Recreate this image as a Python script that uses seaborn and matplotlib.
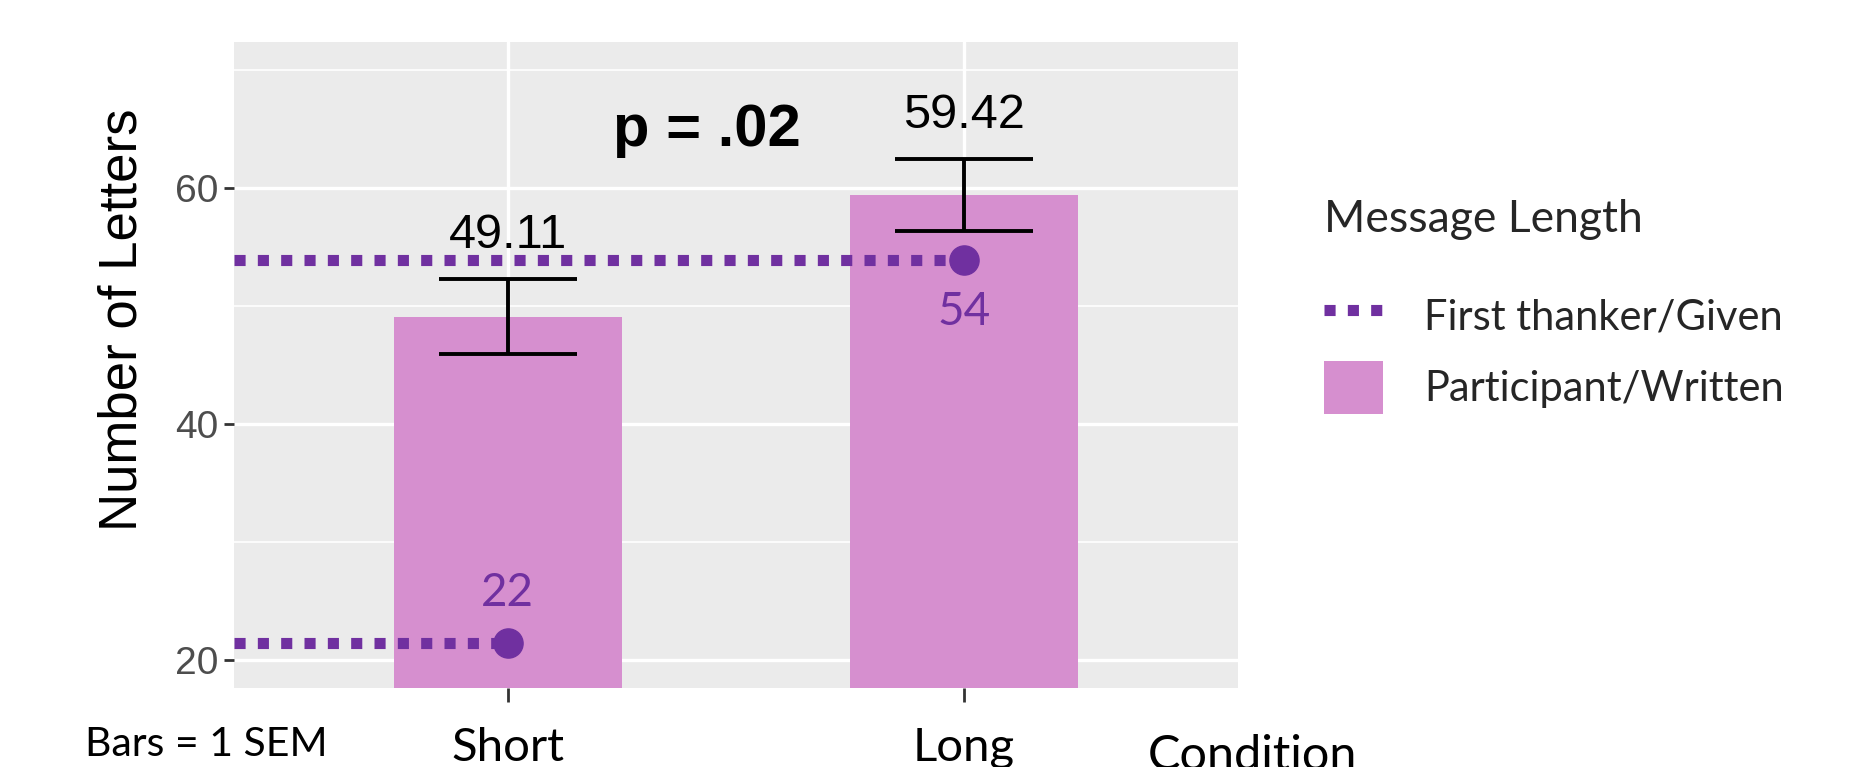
import matplotlib
matplotlib.use("Agg")
import matplotlib.pyplot as plt
from matplotlib.lines import Line2D
from matplotlib.patches import Patch
from matplotlib.ticker import MultipleLocator
import numpy as np
import pandas as pd
import seaborn as sns

# data
conditions = ["Short", "Long"]
written_means = [49.11, 59.42]
written_sem = [3.2, 3.05]
given_values = [21.4, 53.9]
given_labels = ["22", "54"]
mean_labels = ["49.11", "59.42"]

BAR_COLOR = "#D68FCF"
PURPLE = "#7030A0"
ARIAL = ["Liberation Sans", "DejaVu Sans"]
CALIBRI = ["Lato", "DejaVu Sans"]


def main():
    sns.set_theme(style="darkgrid")
    plt.rcParams["font.family"] = ARIAL

    df = pd.DataFrame({"Condition": conditions, "Letters": written_means})

    fig = plt.figure(figsize=(18.54, 7.67), dpi=100)
    ax = fig.add_axes([0.1262, 0.103, 0.5415, 0.842])
    ax.set_facecolor("#EBEBEB")

    sns.barplot(data=df, x="Condition", y="Letters", color=BAR_COLOR,
                width=0.5, errorbar=None, saturation=1, linewidth=0,
                edgecolor="none", ax=ax, zorder=2)
    xs = np.arange(len(conditions))

    # SEM error bars
    ax.errorbar(xs, written_means, yerr=written_sem, fmt="none", ecolor="black",
                elinewidth=2.8, capsize=50, capthick=2.8, zorder=3)
    for x, m, s, lab in zip(xs, written_means, written_sem, mean_labels):
        ax.text(x, m + s + 1.8, lab, ha="center", va="bottom", fontsize=35,
                color="black", zorder=4)

    # given message lengths: dotted line from the left edge to the point
    for x, v in zip(xs, given_values):
        ax.plot([-0.6, x], [v, v], color=PURPLE, lw=8, ls=(0, (1, 1.1)),
                dash_capstyle="butt", zorder=4)
    ax.plot(xs, given_values, "o", color=PURPLE, ms=21, zorder=5)
    ax.text(xs[0], given_values[0] + 2.5, given_labels[0], ha="center", va="bottom",
            fontsize=33, color=PURPLE, family=CALIBRI, zorder=5)
    ax.text(xs[1], given_values[1] - 2.6, given_labels[1], ha="center", va="top",
            fontsize=33, color=PURPLE, family=CALIBRI, zorder=5)

    ax.text(0.436, 64.9, "p = .02", ha="center", va="center", fontsize=43,
            fontweight="bold", color="black", zorder=5)

    ax.set_xlim(-0.6, 1.6)
    ax.set_ylim(17.6, 72.4)
    ax.set_yticks([20, 40, 60])
    ax.yaxis.set_minor_locator(MultipleLocator(10))
    ax.grid(which="major", color="white", lw=2.4)
    ax.grid(which="minor", axis="y", color="white", lw=1.2)
    ax.set_axisbelow(True)
    for sp in ax.spines.values():
        sp.set_visible(False)

    ax.tick_params(axis="y", which="major", length=7, width=2, color="#333333",
                   labelsize=28, labelcolor="#4D4D4D", pad=4, left=True)
    ax.tick_params(axis="y", which="minor", length=0)
    ax.tick_params(axis="x", length=10, width=2, color="#333333", pad=18,
                   labelsize=34, labelcolor="black", bottom=True)
    for t in ax.get_xticklabels():
        t.set_family(CALIBRI)

    ax.set_xlabel("")
    ax.set_ylabel("Number of Letters", fontsize=38, color="black")
    ax.yaxis.set_label_coords(-0.086, 0.57)

    fig.text(0.046, 0.029, "Bars = 1 SEM", ha="left", va="center", fontsize=29.5,
             family=CALIBRI, color="black")
    fig.text(0.619, -0.004, "Condition", ha="left", va="baseline", fontsize=35,
             family=CALIBRI, color="black")

    handles = [Line2D([0], [0], color=PURPLE, lw=8, ls=(0, (1, 1.1)),
                      dash_capstyle="butt"),
               Patch(facecolor=BAR_COLOR, edgecolor="none")]
    leg = fig.legend(handles, ["First thanker/Given", "Participant/Written"],
                     title="Message Length", loc="upper left",
                     bbox_to_anchor=(0.694, 0.79), frameon=False,
                     prop={"family": CALIBRI, "size": 30},
                     handlelength=1.4, handleheight=1.58, handletextpad=1.0,
                     labelspacing=0.45)
    leg.get_title().set_fontsize(32)
    leg.get_title().set_family(CALIBRI)
    leg._legend_box.align = "left"
    leg._legend_box.sep = 36

    fig.savefig("out.png", dpi=100)


if __name__ == "__main__":
    main()
